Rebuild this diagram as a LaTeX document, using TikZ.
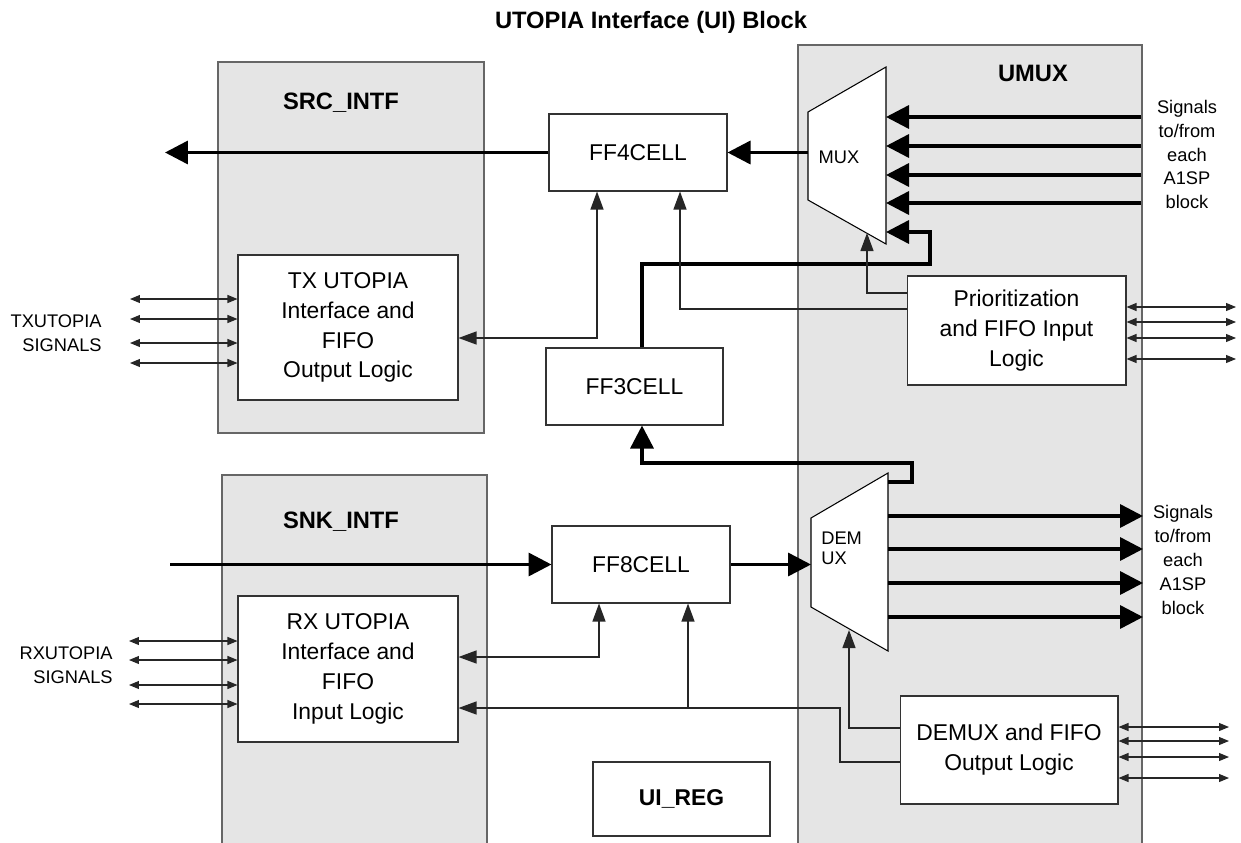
\documentclass[tikz,border=0pt]{standalone}
\usepackage{fontspec}
\setmainfont{Liberation Sans}
\usetikzlibrary{arrows.meta}

\begin{document}
\begin{tikzpicture}[x=0.02cm,y=-0.02cm,
    grp/.style={draw=black!60,fill=black!10,line width=0.7pt,inner sep=0pt},
    blk/.style={draw=black!80,fill=white,line width=0.6pt,inner sep=0pt,align=center,
      font=\fontsize{13}{17}\selectfont},
    hdr/.style={font=\bfseries\fontsize{13.5}{16}\selectfont},
    lbl/.style={align=center,inner sep=0pt,font=\fontsize{10.4}{13.6}\selectfont},
    mx/.style={draw=black,fill=white,line width=0.6pt},
    bus/.style={line width=2pt,-{Triangle[length=0.46cm,width=0.46cm]}},
    sig/.style={draw=black!85,line width=0.7pt,-{Triangle[length=0.36cm,width=0.26cm]}},
    sigb/.style={draw=black!85,line width=0.7pt,
      {Triangle[length=0.36cm,width=0.26cm]}-{Triangle[length=0.36cm,width=0.26cm]}},
    bidir/.style={draw=black!85,line width=0.6pt,
      {Triangle[length=0.2cm,width=0.16cm]}-{Triangle[length=0.2cm,width=0.16cm]}}]

  \clip (0,0) rectangle (1241,842);

  % group boxes
  \node[grp,minimum width=5.32cm,minimum height=7.42cm] (src) at (351,247.5) {};
  \node[grp,minimum width=5.3cm,minimum height=7.5cm] (snk) at (354.5,662.5) {};
  \node[grp,minimum width=6.88cm,minimum height=16.1cm] (umux) at (970,447.5) {};

  \node[hdr] (title) at (651,22) {UTOPIA Interface (UI) Block};
  \node[hdr] (srcname) at (341,103) {SRC\_INTF};
  \node[hdr] (snkname) at (341,522) {SNK\_INTF};
  \node[hdr] (umuxname) at (1033,73) {UMUX};

  % blocks
  \node[blk,minimum width=4.4cm,minimum height=2.9cm] (tx) at (348,327.5)
    {TX UTOPIA\\Interface and\\FIFO\\Output Logic};
  \node[blk,minimum width=4.4cm,minimum height=2.92cm] (rx) at (348,669)
    {RX UTOPIA\\Interface and\\FIFO\\Input Logic};
  \node[blk,minimum width=3.56cm,minimum height=1.54cm] (ff4) at (638,152.5) {FF4CELL};
  \node[blk,minimum width=3.54cm,minimum height=1.54cm] (ff3) at (634.5,386.5) {FF3CELL};
  \node[blk,minimum width=3.56cm,minimum height=1.54cm] (ff8) at (641,564.5) {FF8CELL};
  \node[blk,minimum width=3.54cm,minimum height=1.48cm,font=\bfseries\fontsize{13}{16}\selectfont]
    (uireg) at (681.5,799) {UI\_REG};
  \node[blk,minimum width=4.38cm,minimum height=2.18cm] (prio) at (1016.5,330.5)
    {Prioritization\\and FIFO Input\\Logic};
  \node[blk,minimum width=4.36cm,minimum height=2.16cm] (dmo) at (1009,750)
    {DEMUX and FIFO\\Output Logic};

  % mux and demux
  \coordinate (mux-nw) at (808,112);
  \coordinate (mux-ne) at (886,67);
  \coordinate (mux-se) at (886,244);
  \coordinate (mux-sw) at (808,200);
  \draw[mx] (mux-nw) -- (mux-ne) -- (mux-se) -- (mux-sw) -- cycle;
  \node[lbl] (muxname) at (839,157) {MUX};

  \coordinate (dmx-nw) at (811,518);
  \coordinate (dmx-ne) at (888,473);
  \coordinate (dmx-se) at (888,651);
  \coordinate (dmx-sw) at (811,607);
  \draw[mx] (dmx-nw) -- (dmx-ne) -- (dmx-se) -- (dmx-sw) -- cycle;
  \node[lbl,align=left,anchor=west,font=\fontsize{10.4}{11.5}\selectfont]
    (dmxname) at (821,548) {DEM\\UX};

  % side labels
  \node[lbl] (siga) at (1187,154.5) {Signals\\to/from\\each\\A1SP\\block};
  \node[lbl] (sigb) at (1183,560) {Signals\\to/from\\each\\A1SP\\block};
  \node[lbl,align=right,anchor=east] (txname) at (102,333.5) {TXUTOPIA\\SIGNALS};
  \node[lbl,align=right,anchor=east] (rxname) at (113,665) {RXUTOPIA\\SIGNALS};

  % thick busses
  \coordinate (txbus) at (165,152.5);
  \coordinate (rxbus) at (170,564.5);
  \draw[bus] (ff4.west) -- (txbus);
  \draw[bus] (mux-nw |- ff4) -- (ff4.east);
  \draw[bus] (rxbus) -- (ff8.west);
  \draw[bus] (ff8.east) -- (ff8.east -| dmx-nw);
  \foreach \y [count=\i] in {117,146,175,203} {
    \coordinate (ain\i) at (1141,\y);
    \draw[bus] (ain\i) -- (ain\i -| mux-ne);
  }
  \foreach \y [count=\i] in {516,549,583,617} {
    \coordinate (aout\i) at (1143,\y);
    \draw[bus] (aout\i -| dmx-ne) -- (aout\i);
  }

  % loop through FF3CELL
  \coordinate (j3) at (642,264);
  \coordinate (fb1) at (930,232);
  \coordinate (m5) at (886,232);
  \draw[bus] (ff3.north -| j3) -- (j3) -| (fb1) -- (m5);
  \coordinate (d0) at (888,482);
  \coordinate (fb2) at (912,463);
  \coordinate (j4) at (642,463);
  \draw[bus] (d0) -| (fb2) -- (j4) -- (ff3.south -| j4);

  % control lines
  \coordinate (mb) at (867,233);
  \coordinate (db) at (849,630);
  \coordinate (tap) at (688,708);
  \draw[sig] (prio.west |- 0,293) -| (mb);
  \draw[sig] (prio.west |- 0,309) -| (ff4.south -| 680,0);
  \draw[sigb] (tx.east |- 0,338) -| (ff4.south -| 597,0);
  \draw[sigb] (rx.east |- 0,657) -| (ff8.south -| 599,0);
  \draw[sig] (dmo.west |- 0,762) -| (840,708) -- (rx.east |- tap);
  \draw[sig] (tap) -- (ff8.south -| tap);
  \draw[sig] (dmo.west |- 0,728) -| (db);

  % utopia pins
  \foreach \y [count=\i] in {299,319,343,363} {
    \coordinate (txs\i) at (130,\y);
    \draw[bidir] (txs\i) -- (txs\i -| tx.west);
  }
  \foreach \y [count=\i] in {641,660,685,704} {
    \coordinate (rxs\i) at (129,\y);
    \draw[bidir] (rxs\i) -- (rxs\i -| rx.west);
  }
  \foreach \y [count=\i] in {307,322,338,359} {
    \coordinate (prs\i) at (1236,\y);
    \draw[bidir] (prs\i -| prio.east) -- (prs\i);
  }
  \foreach \y [count=\i] in {727,741,757,778} {
    \coordinate (dos\i) at (1229,\y);
    \draw[bidir] (dos\i -| dmo.east) -- (dos\i);
  }
\end{tikzpicture}
\end{document}
